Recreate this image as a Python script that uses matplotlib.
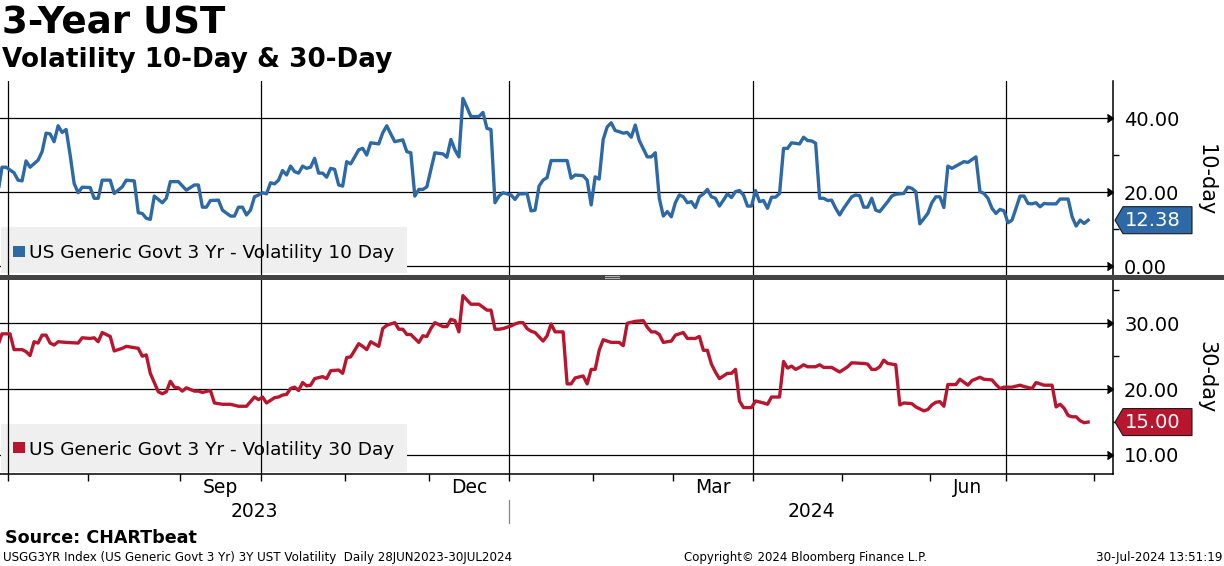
import numpy as np
import matplotlib.pyplot as plt
import matplotlib.markers as mmarkers
from matplotlib.patches import Rectangle, Polygon
from matplotlib.transforms import IdentityTransform
from matplotlib.lines import Line2D

# Trading days counted from the first date of the series (28 Jun 2023)
start = '2023-06-28'
holidays = ['2023-07-04', '2023-09-04', '2023-10-09', '2023-11-23', '2023-12-25',
            '2024-01-01', '2024-01-15', '2024-02-19', '2024-03-29', '2024-05-27',
            '2024-06-19', '2024-07-04']

# 10-day volatility (trading day index, value)
day_10 = [0, 1, 2, 4, 5, 6, 7, 8, 10, 11, 12, 13, 14, 15, 16, 17, 18, 19, 20, 21, 23, 24, 25, 26,
          28, 29, 31, 32, 34, 35, 36, 37, 38, 39, 41, 42, 43, 45, 47, 49, 50, 51, 52, 53, 55, 56,
          58, 59, 60, 61, 62, 63, 64, 65, 66, 67, 68, 69, 70, 71, 72, 73, 74, 75, 76, 77, 78, 79,
          80, 81, 82, 83, 84, 85, 86, 87, 88, 90, 91, 92, 93, 95, 96, 97, 98, 99, 101, 102, 103,
          104, 105, 106, 107, 109, 111, 112, 113, 114, 115, 116, 117, 118, 120, 121, 122, 123,
          124, 125, 126, 128, 129, 130, 131, 132, 133, 134, 135, 136, 137, 138, 142, 143, 144,
          146, 147, 148, 149, 150, 151, 152, 153, 154, 155, 156, 157, 158, 159, 160, 162, 163,
          164, 165, 166, 167, 168, 169, 170, 171, 172, 173, 174, 175, 176, 177, 178, 179, 180,
          181, 182, 183, 184, 185, 186, 187, 188, 189, 190, 191, 192, 193, 194, 195, 196, 197,
          198, 200, 201, 202, 203, 204, 205, 206, 207, 208, 209, 210, 211, 213, 214, 215, 216,
          217, 218, 219, 220, 222, 223, 224, 226, 227, 228, 229, 230, 232, 233, 234, 235, 236,
          237, 238, 239, 241, 242, 244, 245, 246, 247, 248, 249, 250, 251, 252, 253, 254, 255,
          256, 257, 258, 259, 260, 261, 262, 264, 265, 267, 268, 269, 270, 271, 272]
vol_10 = [19.8, 26.7, 26.7, 25.2, 23.2, 23.0, 28.4, 26.7, 28.6, 30.9, 35.9, 35.7, 33.6, 37.9, 36.1,
          36.9, 30.0, 22.3, 19.8, 21.3, 21.2, 18.3, 18.3, 23.2, 23.2, 19.6, 21.4, 23.2, 23.0, 14.4,
          14.2, 12.9, 12.6, 18.9, 17.1, 18.3, 22.8, 22.8, 20.5, 21.9, 21.9, 15.9, 15.9, 17.7, 17.8,
          15.1, 13.5, 13.5, 15.9, 15.9, 13.8, 15.1, 18.7, 19.2, 19.8, 19.5, 22.5, 22.2, 23.2, 25.8,
          24.6, 27.0, 25.5, 25.1, 27.0, 26.4, 26.7, 29.1, 25.1, 25.1, 24.0, 26.4, 26.1, 21.9, 21.6,
          28.2, 27.6, 31.4, 31.8, 30.0, 33.3, 33.0, 36.0, 37.9, 35.7, 33.6, 34.1, 30.9, 30.6, 18.9,
          20.7, 20.7, 21.4, 30.6, 30.3, 29.4, 34.2, 31.4, 29.5, 45.3, 42.9, 40.4, 40.4, 41.5, 37.2,
          36.9, 17.1, 18.9, 19.8, 19.2, 18.0, 19.5, 19.5, 19.6, 14.9, 15.1, 21.6, 23.2, 23.9, 28.5,
          28.5, 23.7, 24.6, 24.4, 23.2, 16.5, 24.1, 23.5, 34.2, 37.6, 38.7, 36.6, 36.3, 35.9, 36.1,
          34.8, 38.1, 33.9, 29.5, 29.5, 30.6, 18.3, 13.5, 14.7, 13.3, 17.1, 19.2, 18.7, 17.1, 17.4,
          15.8, 18.7, 19.5, 20.7, 18.7, 18.3, 16.2, 17.8, 19.5, 18.5, 20.1, 20.4, 19.2, 16.2, 16.2,
          20.4, 17.4, 17.7, 15.6, 18.6, 18.6, 19.6, 31.8, 31.8, 33.3, 33.0, 34.8, 33.9, 33.8, 33.2,
          18.3, 18.3, 17.7, 17.8, 15.6, 13.8, 15.6, 18.7, 19.2, 19.0, 15.9, 15.9, 18.3, 15.1, 14.7,
          17.4, 18.9, 19.4, 19.6, 21.3, 21.0, 20.1, 11.4, 14.2, 17.1, 18.7, 18.7, 15.8, 27.0, 26.4,
          27.0, 28.2, 28.0, 29.5, 20.1, 19.6, 18.3, 15.6, 14.2, 15.3, 14.9, 11.7, 12.4, 15.6, 18.9,
          18.9, 16.9, 16.8, 17.1, 16.0, 16.9, 16.8, 16.8, 18.1, 18.1, 13.3, 10.8, 12.4, 11.5, 12.38]

# 30-day volatility
day_30 = [0, 1, 3, 4, 6, 7, 8, 9, 10, 11, 12, 13, 14, 15, 17, 20, 21, 23, 24, 25, 26, 28, 29, 31,
          32, 34, 35, 36, 37, 38, 40, 41, 42, 43, 44, 45, 46, 47, 49, 50, 51, 53, 54, 56, 58, 60,
          62, 64, 65, 66, 67, 69, 70, 71, 72, 73, 74, 75, 76, 77, 78, 79, 81, 82, 83, 85, 86, 87,
          88, 90, 91, 92, 93, 95, 96, 97, 99, 100, 101, 102, 103, 105, 106, 107, 108, 109, 111,
          112, 113, 114, 115, 116, 118, 120, 122, 123, 124, 125, 126, 128, 129, 130, 131, 132,
          133, 134, 136, 137, 138, 139, 141, 142, 143, 144, 146, 147, 148, 149, 150, 151, 153,
          155, 156, 157, 159, 161, 162, 163, 164, 165, 166, 168, 169, 171, 172, 174, 175, 176,
          177, 178, 179, 180, 181, 182, 183, 184, 185, 186, 188, 189, 191, 192, 193, 195, 196,
          197, 198, 199, 200, 201, 202, 204, 205, 206, 208, 210, 212, 213, 216, 217, 218, 219,
          220, 221, 222, 224, 225, 226, 228, 229, 231, 232, 233, 234, 235, 236, 237, 239, 240,
          242, 243, 245, 246, 248, 249, 250, 251, 253, 255, 256, 258, 259, 261, 263, 264, 265,
          266, 267, 268, 269, 270, 271, 272]
vol_30 = [26.7, 28.4, 28.4, 26.0, 26.0, 25.7, 25.1, 27.2, 27.0, 28.2, 28.2, 27.0, 26.7, 27.2, 27.1,
          27.0, 27.8, 27.7, 27.8, 27.2, 28.6, 28.0, 25.8, 26.2, 26.5, 26.3, 26.2, 25.0, 25.2, 22.4,
          19.6, 19.3, 19.6, 21.2, 20.3, 20.2, 19.7, 20.2, 19.7, 19.7, 19.5, 19.8, 17.9, 17.7, 17.7,
          17.4, 17.4, 18.8, 18.4, 18.8, 17.9, 18.7, 18.8, 19.1, 19.2, 20.1, 20.3, 19.8, 21.0, 20.5,
          20.6, 21.6, 21.9, 21.6, 22.8, 22.9, 22.4, 24.8, 24.9, 26.9, 26.5, 26.0, 27.2, 26.5, 29.2,
          29.7, 30.1, 29.1, 29.1, 28.3, 28.3, 27.1, 28.1, 28.0, 29.2, 30.1, 29.5, 29.5, 30.6, 30.4,
          28.7, 34.2, 32.9, 32.9, 32.0, 32.0, 29.1, 29.1, 29.2, 29.6, 29.9, 30.1, 30.1, 29.2, 28.8,
          28.6, 27.3, 28.1, 29.9, 28.7, 28.7, 20.8, 20.8, 21.7, 22.0, 20.8, 23.0, 23.0, 25.9, 27.5,
          27.1, 27.1, 26.6, 30.0, 30.3, 30.4, 29.4, 28.7, 28.7, 28.3, 27.1, 27.3, 28.2, 28.6, 27.7,
          27.7, 28.0, 25.9, 25.9, 23.8, 22.6, 21.6, 22.0, 22.4, 22.4, 23.0, 18.2, 17.2, 17.2, 18.2,
          17.9, 17.7, 18.8, 18.8, 24.2, 23.2, 23.5, 23.0, 23.3, 23.7, 23.4, 23.4, 23.7, 23.3, 23.3,
          22.6, 23.4, 24.0, 23.9, 23.8, 23.0, 23.0, 23.4, 24.4, 23.9, 23.7, 17.6, 17.9, 17.8, 17.3,
          16.7, 16.9, 17.6, 18.0, 18.1, 17.4, 20.7, 20.7, 21.5, 20.6, 21.3, 21.8, 21.5, 21.4, 20.7,
          20.1, 20.3, 20.3, 20.6, 20.4, 20.1, 21.0, 20.6, 20.6, 17.3, 17.7, 17.1, 16.0, 15.8, 15.8,
          15.2, 14.9, 15.0]

month_starts = ['2023-07-01', '2023-08-01', '2023-09-01', '2023-10-01', '2023-11-01',
                '2023-12-01', '2024-01-01', '2024-02-01', '2024-03-01', '2024-04-01',
                '2024-05-01', '2024-06-01', '2024-07-01', '2024-08-01']
quarter_starts = ['2023-07-01', '2023-10-01', '2024-01-01', '2024-04-01', '2024-07-01']
month_names = ['Sep', 'Dec', 'Mar', 'Jun']
month_spans = [('2023-09-01', '2023-10-01'), ('2023-12-01', '2024-01-01'),
               ('2024-03-01', '2024-04-01'), ('2024-06-01', '2024-07-01')]
years = ['2023', '2024']

BLUE = '#2c69a6'
RED = '#b8162f'


def tday(d):
    # boundary between trading days, just before the first session of date d
    return np.busday_count(start, d, holidays=holidays) - 0.5


W, H = 1224, 566
fig = plt.figure(figsize=(W / 100, H / 100), dpi=100)
x_left, x_right = 0.5, 278.2

ax1 = fig.add_axes([0, 1 - 275 / H, 1113 / W, 194 / H])
ax2 = fig.add_axes([0, 1 - 474 / H, 1113 / W, 195 / H])
ax1.set_ylim(-2.43, 50.0)
ax2.set_ylim(7.11, 36.73)

panels = [
    (ax1, day_10, vol_10, BLUE, [0, 20, 40], [10, 30], '10-day',
     'US Generic Govt 3 Yr - Volatility 10 Day'),
    (ax2, day_30, vol_30, RED, [10, 20, 30], [15, 25, 35], '30-day',
     'US Generic Govt 3 Yr - Volatility 30 Day'),
]

for ax, xs, ys, col, major, minor, side_label, leg in panels:
    ax.set_xlim(x_left, x_right)
    ax.set_facecolor('none')
    for s in ['left', 'top', 'bottom']:
        ax.spines[s].set_visible(False)
    ax.spines['right'].set_linewidth(1.1)
    ax.spines['right'].set_color('black')

    for v in major:
        ax.axhline(v, color='black', lw=0.9, zorder=1)

    # legend box sits over the horizontal grid but under the vertical one
    ax.add_patch(Rectangle((0.001, 0.010), 0.365, 0.235 if ax is ax1 else 0.246,
                           transform=ax.transAxes, facecolor='#efefef',
                           edgecolor='none', zorder=1.5))
    for q in quarter_starts:
        ax.axvline(tday(q), color='black', lw=0.9, zorder=2)

    ax.plot(xs, ys, color=col, lw=2.4, solid_joinstyle='round', zorder=3)

    ax.yaxis.tick_right()
    ax.set_yticks(major)
    ax.set_yticklabels([f'{v:.2f}' for v in major])
    ax.set_yticks(minor, minor=True)
    ax.tick_params(axis='y', which='major', length=0, pad=8, labelsize=14)
    ax.tick_params(axis='y', which='minor', length=4, width=1, direction='out')
    ax.plot([1] * len(major), major, linestyle='', marker=mmarkers.CARETRIGHT,
            markersize=6, color='black', transform=ax.get_yaxis_transform(),
            clip_on=False, zorder=4)

    ax.text(1.0836, 0.49 if ax is ax1 else 0.497, side_label, transform=ax.transAxes,
            rotation=270, ha='center', va='center', fontsize=15)

    # legend square + text
    if ax is ax1:
        sq_y, txt_y = 0.093, 0.086
    else:
        sq_y, txt_y = 0.108, 0.097
    ax.add_patch(Rectangle((0.0117, sq_y), 0.0108, 0.057, transform=ax.transAxes,
                           facecolor=col, edgecolor='none', zorder=4))
    ax.text(0.0261, txt_y, leg, transform=ax.transAxes, fontsize=13.3,
            va='baseline', ha='left', zorder=4)

    # last value tag
    last = ys[-1]
    x0, yc = ax.transData.transform((x_right, last))
    pts = [(x0 + 2, yc), (x0 + 10, yc + 13.5), (x0 + 79, yc + 13.5),
           (x0 + 79, yc - 13.5), (x0 + 10, yc - 13.5)]
    fig.add_artist(Polygon(pts, closed=True, transform=IdentityTransform(),
                           facecolor=col, edgecolor='#1b1b1b', lw=0.8, zorder=5))
    fig.text((x0 + 40) / W, yc / H, f'{last:.2f}', color='white', fontsize=14,
             ha='center', va='center', zorder=6)

ax1.set_xticks([])

# bottom x axis
ax2.spines['bottom'].set_visible(True)
ax2.spines['bottom'].set_linewidth(1.1)
ax2.set_xticks([tday(m) for m in month_starts])
ax2.set_xticklabels([])
ax2.tick_params(axis='x', length=5, width=1, direction='out')

xt = ax2.get_xaxis_transform()
for name, (a, b) in zip(month_names, month_spans):
    ax2.text((tday(a) + tday(b)) / 2, -0.067, name, transform=xt,
             ha='center', va='center', fontsize=13.5)
year_break = tday('2024-01-01')
ax2.text((x_left + year_break) / 2, -0.19, years[0], transform=xt,
         ha='center', va='center', fontsize=13.5)
ax2.text((year_break + x_right) / 2, -0.19, years[1], transform=xt,
         ha='center', va='center', fontsize=13.5)
ax2.add_line(Line2D([year_break, year_break], [-0.133, -0.251], transform=xt,
                    color='#888888', lw=0.9, clip_on=False))

# separator between panels
fig.add_artist(Rectangle((0, 1 - 279.5 / H), 1, 4.5 / H, transform=fig.transFigure,
                         facecolor='#434343', edgecolor='none'))
for yy in (276.3, 278.0):
    fig.add_artist(Line2D([605 / W, 619 / W], [1 - yy / H, 1 - yy / H],
                          transform=fig.transFigure, color='#b0b0b0', lw=0.8))

# titles and footer
fig.text(2 / W, 1 - 34 / H, '3-Year UST', fontsize=26.8, fontweight='bold',
         ha='left', va='baseline')
fig.text(2 / W, 1 - 67 / H, 'Volatility 10-Day & 30-Day', fontsize=18.9,
         fontweight='bold', ha='left', va='baseline')
fig.text(5 / W, 1 - 543 / H, 'Source: CHARTbeat', fontsize=12.6, fontweight='bold',
         ha='left', va='baseline')
fig.text(3 / W, 1 - 561 / H,
         'USGG3YR Index (US Generic Govt 3 Yr) 3Y UST Volatility  Daily 28JUN2023-30JUL2024',
         fontsize=8.6, ha='left', va='baseline')
fig.text(684 / W, 1 - 561 / H, 'Copyright\u00a9 2024 Bloomberg Finance L.P.',
         fontsize=8.5, ha='left', va='baseline')
fig.text(1222 / W, 1 - 561 / H, '30-Jul-2024 13:51:19', fontsize=8.6,
         ha='right', va='baseline')

fig.savefig('out.png', dpi=100)
